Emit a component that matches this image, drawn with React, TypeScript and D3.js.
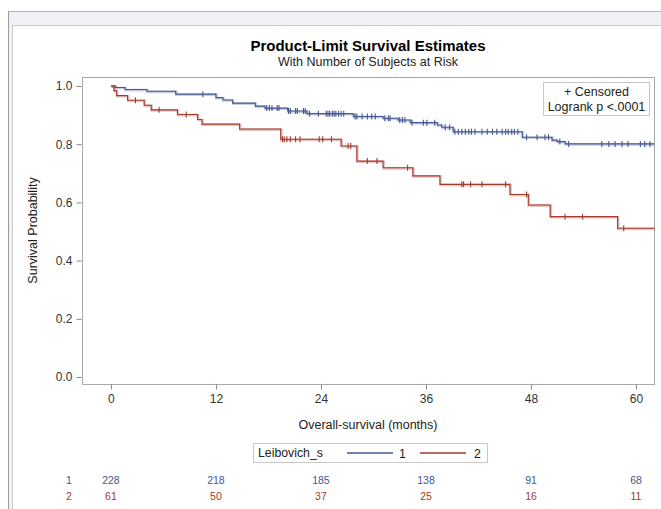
import React, { useEffect, useRef } from 'react';
import { select, scaleLinear, axisLeft, axisBottom, line, curveStepAfter } from 'd3';

// at-risk table
const riskMonths = [0, 12, 24, 36, 48, 60];
const groupNames = ['1', '2'];
const atRisk1 = [228, 218, 185, 138, 91, 68];
const atRisk2 = [61, 50, 37, 25, 16, 11];

// group 1 (blue) product-limit steps
const blueTimes = [0, 0.5, 1.6, 4.1, 7.4, 12.0, 12.8, 13.9, 16.5, 17.6, 20.2, 22.4, 27.7, 31.1, 32.8, 34.2, 37.3, 37.8, 39.1, 47.0, 50.4, 51.0, 51.9];
const blueSurv = [1.0, 0.995, 0.988, 0.982, 0.972, 0.960, 0.952, 0.941, 0.931, 0.924, 0.914, 0.905, 0.895, 0.889, 0.883, 0.874, 0.866, 0.858, 0.843, 0.824, 0.814, 0.809, 0.801];
const blueCensored = [10.5, 17.8, 18.1, 18.4, 19.0, 19.2, 20.3, 20.5, 21.1, 21.3, 22.0, 22.2, 22.7, 23.7, 24.6, 24.8, 25.0, 25.3, 25.5, 25.7, 26.0, 26.3, 26.6, 27.9, 28.1, 28.7, 29.3, 29.8, 30.2, 31.3, 31.7, 31.9, 33.0, 33.3, 33.6, 34.4, 35.7, 36.1, 37.0, 38.2, 38.7, 39.3, 39.7, 40.1, 40.5, 40.9, 41.2, 41.6, 42.4, 43.0, 43.6, 44.1, 44.7, 45.1, 45.4, 45.8, 46.1, 46.5, 47.5, 48.7, 49.6, 50.0, 51.3, 52.3, 56.1, 56.9, 57.6, 58.4, 59.1, 60.5, 61.0, 61.6];

// group 2 (red) product-limit steps
const redTimes = [0, 0.34, 0.65, 1.9, 3.8, 4.6, 7.6, 9.9, 10.4, 14.7, 19.4, 26.3, 28.1, 31.1, 34.5, 37.6, 45.6, 47.7, 50.2, 57.9];
const redSurv = [1.0, 0.984, 0.967, 0.951, 0.934, 0.918, 0.902, 0.885, 0.869, 0.852, 0.817, 0.794, 0.742, 0.719, 0.691, 0.662, 0.627, 0.591, 0.551, 0.511];
const redCensored = [2.8, 5.5, 8.6, 19.6, 19.8, 20.1, 20.5, 21.1, 21.6, 23.8, 24.2, 25.2, 27.1, 27.4, 29.3, 30.4, 33.9, 40.1, 40.3, 41.1, 42.4, 45.1, 47.5, 51.9, 53.9, 58.6];

const yTicks = [0, 0.2, 0.4, 0.6, 0.8, 1.0];

const BLUE = '#445694';
const RED = '#A23A2E';
const FONT = '"Liberation Sans", Arial, sans-serif';

const W = 661;
const H = 509;
const plot = { left: 82, right: 654, top: 77, bottom: 384 };

const x = scaleLinear().domain([-3.31, 62.06]).range([plot.left, plot.right]);
const y = scaleLinear().domain([0, 1]).range([377, 86]);
const tEnd = 62.06;

const stepLine = line<[number, number]>()
  .x(d => x(d[0]))
  .y(d => y(d[1]))
  .curve(curveStepAfter);

const survAt = (times: number[], surv: number[], t: number) => {
  let s = surv[0];
  times.forEach((tt, i) => { if (tt <= t) s = surv[i]; });
  return s;
};

const KMCurve = ({ times, surv, censored, color }: { times: number[]; surv: number[]; censored: number[]; color: string }) => {
  const pts: [number, number][] = times.map((t, i) => [t, surv[i]]);
  pts.push([tEnd, surv[surv.length - 1]]);
  const d = stepLine(pts) || '';
  return (
    <g>
      <path d={d} fill="none" stroke={color} strokeOpacity={0.3} strokeWidth={2.6} transform="translate(0.6,0.6)" />
      <path d={d} fill="none" stroke={color} strokeWidth={1.1} />
      {censored.map((t, i) => {
        const cx = x(t);
        const cy = y(survAt(times, surv, t));
        return <line key={i} x1={cx} x2={cx} y1={cy - 3} y2={cy + 3} stroke={color} strokeWidth={1.1} />;
      })}
    </g>
  );
};

const App = () => {
  const xAxisRef = useRef<SVGGElement>(null);
  const yAxisRef = useRef<SVGGElement>(null);

  useEffect(() => {
    const xAxis = axisBottom(x).tickValues(riskMonths).tickSize(5).tickSizeOuter(0).tickPadding(5);
    const gx = select(xAxisRef.current).call(xAxis as any);
    gx.select('.domain').remove();
    gx.selectAll('line').attr('stroke', '#888');
    gx.selectAll('text').attr('fill', '#333').style('font-size', '12px').style('font-family', FONT);

    const yAxis = axisLeft(y).tickValues(yTicks).tickFormat(v => (v as number).toFixed(1)).tickSize(5).tickPadding(4);
    const gy = select(yAxisRef.current).call(yAxis as any);
    gy.select('.domain').remove();
    gy.selectAll('line').attr('stroke', '#888');
    gy.selectAll('text').attr('fill', '#333').style('font-size', '12px').style('font-family', FONT);
  }, []);

  return (
    <svg width={W} height={H} style={{ position: 'absolute', left: 0, top: 0, background: '#fff' }} fontFamily={FONT}>
      {/* output frame */}
      <rect x={8} y={11} width={W - 8} height={H - 11} fill="#f0f1f7" />
      <rect x={13} y={26} width={W - 13} height={H - 26} fill="#fff" />
      <line x1={8} x2={W} y1={11.5} y2={11.5} stroke="#b4b6bc" />
      <line x1={8.5} x2={8.5} y1={11} y2={H} stroke="#9a9ca4" />
      <line x1={13} x2={W} y1={25.5} y2={25.5} stroke="#c9cbd0" />
      <line x1={12.5} x2={12.5} y1={25} y2={H} stroke="#c9cbd0" />

      <text x={368} y={51} textAnchor="middle" fontSize={15} fontWeight="bold" fill="#000">Product-Limit Survival Estimates</text>
      <text x={368} y={66} textAnchor="middle" fontSize={12.5} fill="#222">With Number of Subjects at Risk</text>

      <rect x={plot.left + 0.5} y={plot.top + 0.5} width={plot.right - plot.left} height={plot.bottom - plot.top} fill="none" stroke="#a8a8a8" />
      <g ref={xAxisRef} transform={`translate(0,${plot.bottom + 0.5})`} />
      <g ref={yAxisRef} transform={`translate(${plot.left - 0.5},0)`} />

      <text transform={`translate(37,${(plot.top + plot.bottom) / 2}) rotate(-90)`} textAnchor="middle" fontSize={12.5} fill="#222">Survival Probability</text>
      <text x={368} y={429} textAnchor="middle" fontSize={12.5} fill="#222">Overall-survival (months)</text>

      <KMCurve times={blueTimes} surv={blueSurv} censored={blueCensored} color={BLUE} />
      <KMCurve times={redTimes} surv={redSurv} censored={redCensored} color={RED} />

      {/* inset */}
      <rect x={543.5} y={82.5} width={106} height={33} fill="#fff" stroke="#c8c8c8" />
      <text x={596.5} y={96} textAnchor="middle" fontSize={12.5} fill="#222">+ Censored</text>
      <text x={596.5} y={111} textAnchor="middle" fontSize={12.5} fill="#222">Logrank p &lt;.0001</text>

      {/* legend */}
      <rect x={253.5} y={443.5} width={234} height={19} fill="#fff" stroke="#c8c8c8" />
      <text x={258} y={457} fontSize={12.3} fill="#222">Leibovich_s</text>
      <line x1={347} x2={393} y1={453} y2={453} stroke={BLUE} strokeWidth={1.4} />
      <text x={399} y={457.5} fontSize={12.3} fill="#222">1</text>
      <line x1={420} x2={466} y1={453} y2={453} stroke={RED} strokeWidth={1.4} />
      <text x={474} y={457.5} fontSize={12.3} fill="#222">2</text>

      {/* at-risk table */}
      {[atRisk1, atRisk2].map((row, gi) => (
        <g key={gi} fill={gi === 0 ? BLUE : RED} fontSize={10.5}>
          <text x={69} y={484 + gi * 16} textAnchor="middle">{groupNames[gi]}</text>
          {row.map((n, i) => (
            <text key={i} x={x(riskMonths[i])} y={484 + gi * 16} textAnchor="middle">{n}</text>
          ))}
        </g>
      ))}
    </svg>
  );
};

export default App;
